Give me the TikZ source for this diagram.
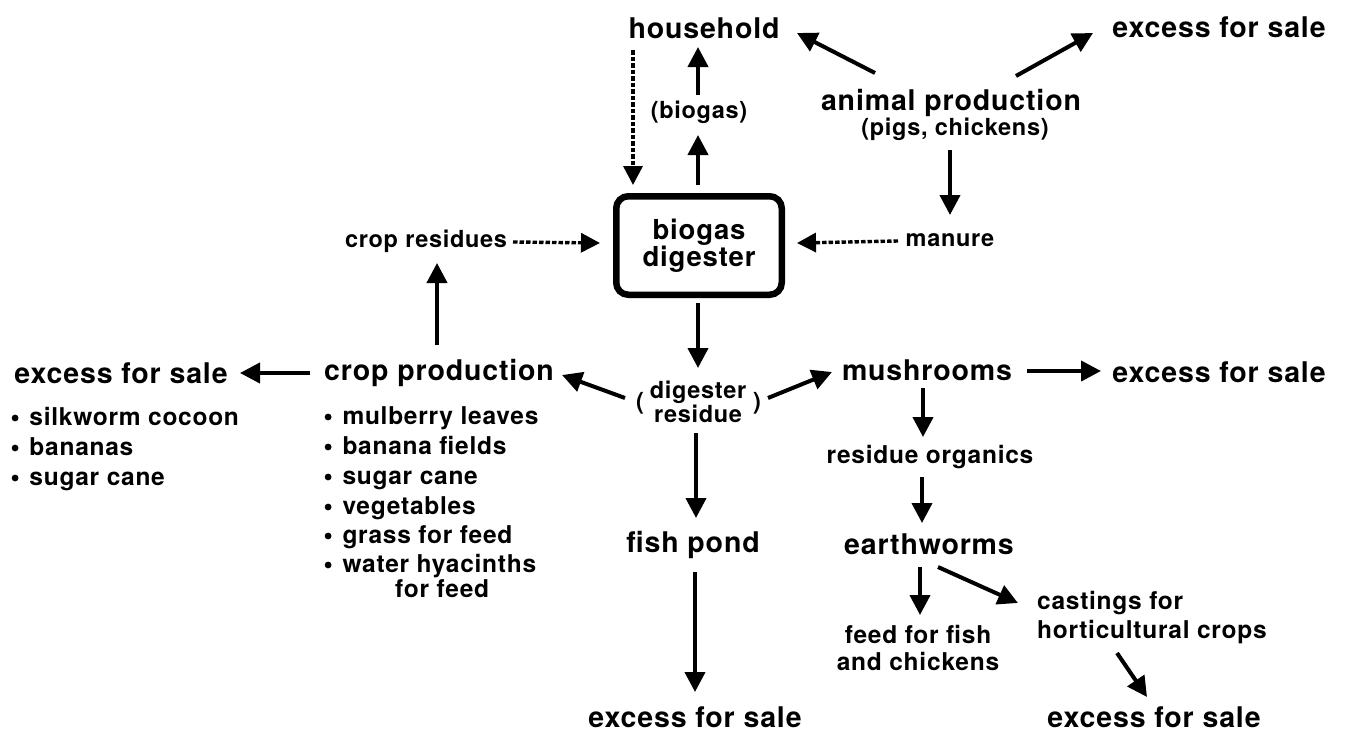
\documentclass[tikz,border=0pt]{standalone}
\usepackage{fontspec}
\setmainfont{TeX Gyre Heros}[LetterSpace=3]
\usetikzlibrary{arrows.meta}
\tikzset{
  big/.style={inner sep=0pt, font=\bfseries\fontsize{28.5}{30}\selectfont},
  mid/.style={inner sep=0pt, font=\bfseries\fontsize{23.5}{22}\selectfont, align=center},
  sec/.style={inner sep=0pt, font=\bfseries\fontsize{24.5}{27}\selectfont, align=center},
  row/.style={inner sep=0pt, anchor=base west, font=\bfseries\fontsize{24.5}{27}\selectfont},
  arr/.style={line width=4pt, -{Triangle[length=20pt,width=20pt]}},
  darr/.style={line width=3.4pt, dash pattern=on 4.5pt off 2pt, -{Triangle[length=19pt,width=19pt]}},
  digbox/.style={draw, line width=6.5pt, rounded corners=12pt, minimum width=165.5pt, minimum height=98.5pt, align=center, inner sep=0pt, font=\bfseries\fontsize{27.5}{26}\selectfont}
}
\newcommand\bul{\tikz[baseline=0pt]\fill (3.5pt,7pt) circle (3.4pt);\hspace{11pt}}
\begin{document}
\begin{tikzpicture}[x=1pt,y=-1pt]
\fill[white] (0,0) rectangle (1350,731);
\useasboundingbox (0,0) rectangle (1350,731);

\node[big] (household) at (704,28) {household};
\node[big] (exTR) at (1219,27) {excess for sale};
\node[big] (animal) at (951,103) {animal production};
\node[mid] (pigs) at (955,129) {(pigs, chickens)};
\node[mid] (biogas) at (699,112) {(biogas)};
\node[digbox] (dig) at (699,245.5) {biogas\\digester};
\node[mid] (manure) at (950,240) {manure};
\node[mid] (cropres) at (426,241) {crop residues};
\node[big] (crop) at (439,373) {crop production};
\node[big] (exL) at (121,373) {excess for sale};

\node[row] (l1) at (11.5,425) {\bul silkworm cocoon};
\node[row] (l2) at (11.5,455) {\bul bananas};
\node[row] (l3) at (11.5,485) {\bul sugar cane};

\node[row] (m1) at (324.5,424) {\bul mulberry leaves};
\node[row] (m2) at (324.5,454) {\bul banana fields};
\node[row] (m3) at (324.5,484) {\bul sugar cane};
\node[row] (m4) at (324.5,514) {\bul vegetables};
\node[row] (m5) at (324.5,543) {\bul grass for feed};
\node[row] (m6) at (324.5,572) {\bul water hyacinths};
\node[row] (m7) at (395,597) {for feed};

\node[mid] (digres) at (698,402) {digester\\residue};
\node[mid] (lp) at (640,403) {(};
\node[mid] (rp) at (757,403) {)};
\node[big] (mush) at (927,370) {mushrooms};
\node[big] (exR) at (1219,372) {excess for sale};
\node[sec] (resorg) at (930,457) {residue organics};
\node[big] (earth) at (929,544) {earthworms};
\node[sec] (feed) at (918,648) {feed for fish\\and chickens};
\node[sec, anchor=west, align=left, font=\bfseries\fontsize{24.5}{29}\selectfont] (cast) at (1037,618) {castings for\\horticultural crops};
\node[big] (exBR) at (1154,717) {excess for sale};
\node[big] (fish) at (693,545) {fish pond};
\node[big] (exBC) at (695,717) {excess for sale};

\draw[arr] ([shift={(-76,-30)}]animal.center) -- ([shift={(93,5)}]household.center);
\draw[arr] ([shift={(65,-27)}]animal.center) -- ([shift={(-126,6)}]exTR.center);
\draw[arr] ([shift={(-5,21)}]pigs.center) -- ([shift={(0,-25)}]manure.center);
\draw[darr] ([shift={(-52,1)}]manure.center) -- ([shift={(98,-2.5)}]dig.center);
\draw[darr] ([shift={(87,1)}]cropres.center) -- ([shift={(-99,-2.5)}]dig.center);
\draw[darr] ([shift={(-71,22)}]household.center) -- ([shift={(-66,-60.5)}]dig.center);
\draw[arr] ([shift={(-1,-60.5)}]dig.center) -- ([shift={(-1,23)}]biogas.center);
\draw[arr] ([shift={(-1,-17)}]biogas.center) -- ([shift={(-6,19)}]household.center);
\draw[arr] ([shift={(-2,-28)}]crop.center) -- ([shift={(11,22)}]cropres.center);
\draw[arr] ([shift={(-129,0)}]crop.center) -- ([shift={(119,0)}]exL.center);
\draw[arr] ([shift={(-1,57.5)}]dig.center) -- ([shift={(0,-34)}]digres.center);
\draw[arr] ([shift={(-73,-4)}]digres.center) -- ([shift={(123,2)}]crop.center);
\draw[arr] ([shift={(70,-4)}]digres.center) -- ([shift={(-95,2)}]mush.center);
\draw[arr] ([shift={(-2,31)}]digres.center) -- ([shift={(3,-27)}]fish.center);
\draw[arr] ([shift={(2,27)}]fish.center) -- ([shift={(0,-25)}]exBC.center);
\draw[arr] ([shift={(100,1)}]mush.center) -- ([shift={(-118,-1)}]exR.center);
\draw[arr] ([shift={(-4,18)}]mush.center) -- ([shift={(-7,-20)}]resorg.center);
\draw[arr] ([shift={(-8,20)}]resorg.center) -- ([shift={(-7,-21)}]earth.center);
\draw[arr] ([shift={(-9,23)}]earth.center) -- ([shift={(2,-33)}]feed.center);
\draw[arr] ([shift={(9,23)}]earth.center) -- ([shift={(-19,-15)}]cast.west);
\draw[arr] ([shift={(80,35)}]cast.west) -- ([shift={(-7,-20)}]exBR.center);
\end{tikzpicture}
\end{document}
